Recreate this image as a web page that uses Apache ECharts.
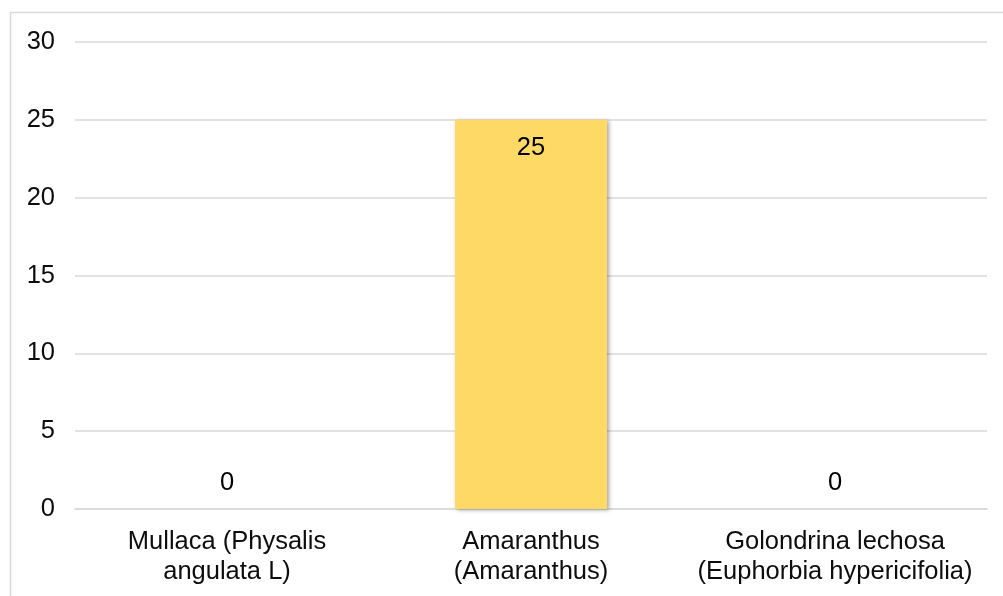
<!DOCTYPE html>
<html>
<head>
<meta charset="utf-8">
<script src="https://cdn.jsdelivr.net/npm/echarts@6/dist/echarts.min.js"></script>
<style>
  html, body { margin: 0; padding: 0; background: #fff; }
  #chart { width: 1003px; height: 596px; }
</style>
</head>
<body>
<div id="chart"></div>
<script>
// Weed species and counts
const categories = [
  'Mullaca (Physalis\nangulata L)',
  'Amaranthus\n(Amaranthus)',
  'Golondrina lechosa\n(Euphorbia hypericifolia)'
];
const values = [0, 25, 0];
const yTicks = { min: 0, max: 30, interval: 5 };

const font = 'Liberation Sans, Arial, sans-serif';
const textColor = '#0d0d0d';
const chart = echarts.init(document.getElementById('chart'), null, { renderer: 'canvas' });

chart.setOption({
  animation: false,
  graphic: [{
    type: 'rect',
    shape: { x: 10.5, y: 12.5, width: 1100, height: 700 },
    style: { fill: 'none', stroke: '#d9d9d9', lineWidth: 1.5 },
    silent: true
  }],
  grid: { left: 75, right: 16, top: 42, bottom: 87, containLabel: false },
  xAxis: {
    type: 'category',
    data: categories,
    axisLine: { show: true, lineStyle: { color: '#d9d9d9', width: 1.5 } },
    axisTick: { show: false },
    axisLabel: {
      interval: 0,
      hideOverlap: false,
      color: textColor, fontFamily: font, fontSize: 25.5, lineHeight: 30, margin: 18
    }
  },
  yAxis: {
    type: 'value',
    min: yTicks.min, max: yTicks.max, interval: yTicks.interval,
    axisLine: { show: false },
    axisTick: { show: false },
    splitLine: { lineStyle: { color: '#d9d9d9', width: 1.5 } },
    axisLabel: { color: textColor, fontFamily: font, fontSize: 25.5, margin: 20 }
  },
  series: [{
    type: 'bar',
    barWidth: '50%',
    data: values.map(v => ({
      value: v,
      label: v > 0
        ? { position: 'insideTop', distance: 15 }
        : { position: 'top', distance: 13 }
    })),
    itemStyle: {
      color: '#FFD966',
      shadowColor: 'rgba(0,0,0,0.35)',
      shadowBlur: 4,
      shadowOffsetX: 2,
      shadowOffsetY: 1
    },
    label: {
      show: true,
      color: '#000',
      fontFamily: font,
      fontSize: 25.5
    }
  }]
});
</script>
</body>
</html>
